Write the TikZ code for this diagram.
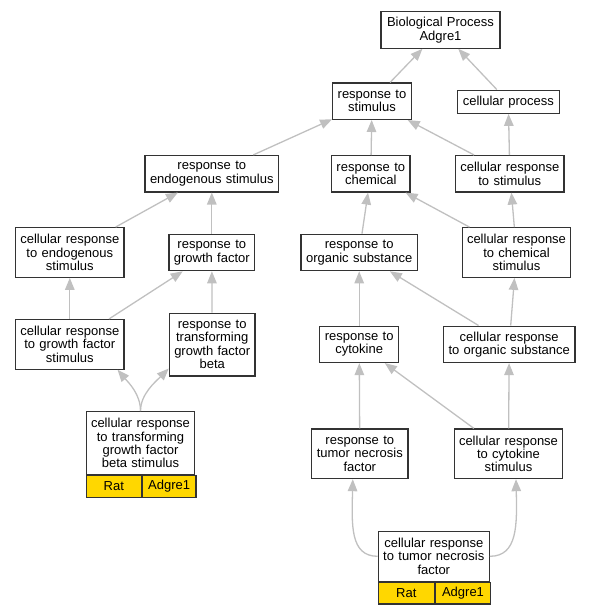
\documentclass[tikz,border=0pt]{standalone}
\usepackage{fontspec}
\setmainfont{Liberation Sans}
\usetikzlibrary{arrows.meta}

\definecolor{edgegray}{HTML}{C0C0C0}
\definecolor{boxline}{HTML}{333333}
\definecolor{genegold}{HTML}{FFD700}

\begin{document}
\begin{tikzpicture}[x=1pt, y=-1pt, font=\fontsize{13}{13.3}\selectfont,
    term/.style={rectangle, draw=boxline, line width=1.2pt, fill=white,
        align=center, inner xsep=0pt, inner ysep=0pt,
        minimum height={10pt+13.2pt*#1}},
    gene/.style={rectangle, draw=boxline, line width=1.2pt, fill=genegold,
        inner sep=0pt, minimum height=21.7pt, anchor=north west},
    isa/.style={draw=edgegray, line width=1.3pt,
        -{Triangle[length=12pt, width=9.5pt]}}]
    \useasboundingbox (0,0) rectangle (591,613);

    \node[term=2, text width=119pt] (bp) at (440.5, 30) {Biological Process\\Adgre1};
    \node[term=2, text width=78.6pt] (rs) at (372, 101.2) {response to\\stimulus};
    \node[term=1, text width=102pt] (cp) at (508.3, 101.7) {cellular process};

    \node[term=2, text width=133.7pt] (res) at (211.8, 173.7) {response to\\endogenous stimulus};
    \node[term=2, text width=78.3pt] (rc) at (370.8, 173.8) {response to\\chemical};
    \node[term=2, text width=108.3pt] (crs) at (509.8, 173.8) {cellular response\\to stimulus};

    \node[term=3, text width=108.3pt] (cres) at (69.8, 252.5) {cellular response\\to endogenous\\stimulus};
    \node[term=2, text width=85.7pt] (rgf) at (211.8, 252.5) {response to\\growth factor};
    \node[term=2, text width=116.3pt] (ros) at (359.2, 252.5) {response to\\organic substance};
    \node[term=3, text width=108.4pt] (crcs) at (516.5, 252.5) {cellular response\\to chemical\\stimulus};

    \node[term=3, text width=108.3pt] (crgfs) at (69.8, 344.3) {cellular response\\to growth factor\\stimulus};
    \node[term=4, text width=85.7pt] (rtgfb) at (212.2, 344.5) {response to\\transforming\\growth factor\\beta};
    \node[term=2, text width=79pt] (rcy) at (359.2, 344.3) {response to\\cytokine};
    \node[term=2, text width=131.7pt] (cros) at (509.2, 344.3) {cellular response\\to organic substance};

    \node[term=4, text width=108.4pt] (crtgfbs) at (140.5, 443) {cellular response\\to transforming\\growth factor\\beta stimulus};
    \node[gene, minimum width=55pt] (crtgfbsrat) at (crtgfbs.south west) {Rat};
    \node[gene, minimum width=53.4pt] (crtgfbsgene) at (crtgfbsrat.north east) {Adgre1};

    \node[term=3, text width=96.3pt] (rtnf) at (359.8, 453.8) {response to\\tumor necrosis\\factor};
    \node[term=3, text width=108.4pt] (crcys) at (508.5, 453.8) {cellular response\\to cytokine\\stimulus};

    \node[term=3, text width=111pt] (crtnf) at (433.8, 556.3) {cellular response\\to tumor necrosis\\factor};
    \node[gene, minimum width=56pt] (crtnfrat) at (crtnf.south west) {Rat};
    \node[gene, minimum width=55pt] (crtnfgene) at (crtnfrat.north east) {Adgre1};

    \draw [isa] (rs) -- (bp);
    \draw [isa] (cp) -- (bp);

    \draw [isa] (res) -- (rs);
    \draw [isa] (rc) -- (rs);
    \draw [isa] (crs) -- (rs);
    \draw [isa] (crs) -- (cp);

    \draw [isa] (cres) -- (res);
    \draw [isa] (rgf) -- (res);
    \draw [isa] (ros) -- (rc);
    \draw [isa] (crcs) -- (rc);
    \draw [isa] (crcs) -- (crs);

    \draw [isa] (crgfs) -- (cres);
    \draw [isa] (crgfs) -- (rgf);
    \draw [isa] (rtgfb) -- (rgf);
    \draw [isa] (rcy) -- (ros);
    \draw [isa] (cros) -- (ros);
    \draw [isa] (cros) -- (crcs);

    \draw [isa] (rtnf) -- (rcy);
    \draw [isa] (crcys) -- (rcy);
    \draw [isa] (crcys) -- (cros);

    % curved links out of the annotated terms
    \draw [isa] (crtgfbs.north) .. controls +(0,-17) and +(11,13) .. ([xshift=-7pt]crgfs.south east);
    \draw [isa] (crtgfbs.north) .. controls +(0,-17) and +(-13,13) .. ([yshift=8pt]rtgfb.south west);
    \draw [isa] (crtnf.west) .. controls +(-28,0) and +(-1,45) .. ([xshift=-7pt]rtnf.south);
    \draw [isa] (crtnf.east) .. controls +(28,0) and +(1,45) .. ([xshift=7.5pt]crcys.south);
\end{tikzpicture}
\end{document}
